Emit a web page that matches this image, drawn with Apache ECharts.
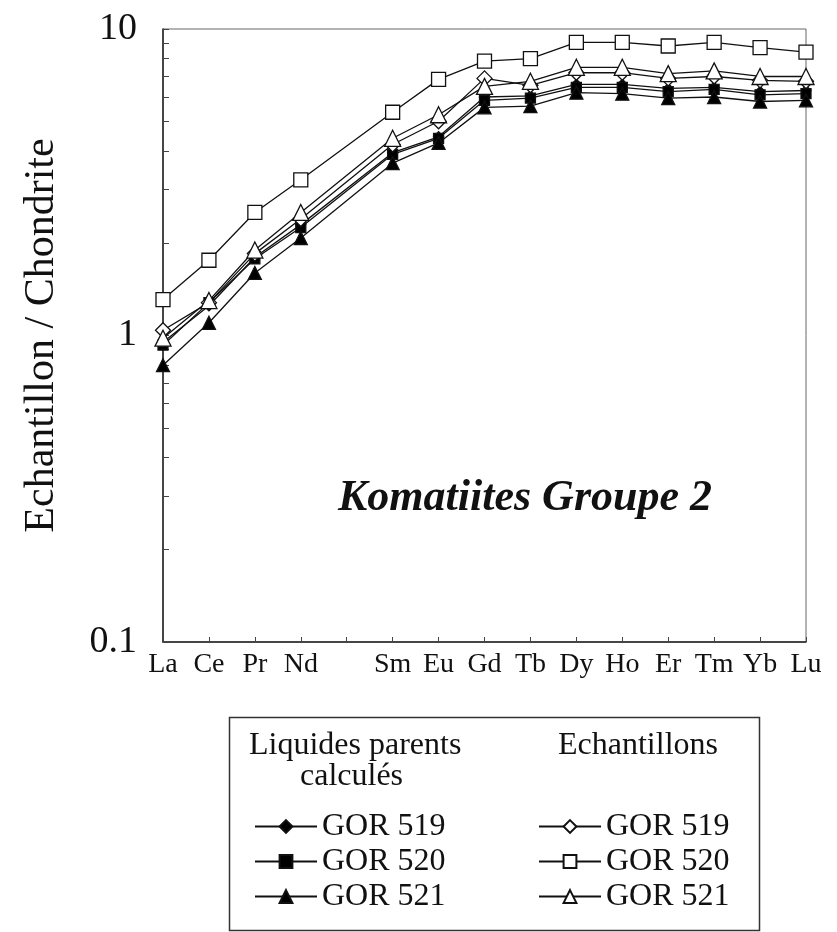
<!DOCTYPE html>
<html>
<head>
<meta charset="utf-8">
<style>
  html, body { margin: 0; padding: 0; background: #fff; }
  #chart { width: 837px; height: 932px; }
</style>
<script src="https://cdn.jsdelivr.net/npm/echarts@6/dist/echarts.min.js"></script>
</head>
<body>
<div id="chart"></div>
<script>
// Rare earth elements, chondrite-normalised (Pm left empty)
const elements = ['La', 'Ce', 'Pr', 'Nd', '', 'Sm', 'Eu', 'Gd', 'Tb', 'Dy', 'Ho', 'Er', 'Tm', 'Yb', 'Lu'];

// Calculated parent liquids
const liquid519 = [0.95, 1.25, 1.80, 2.30, null, 3.95, 4.45, 6.00, 6.05, 6.60, 6.60, 6.40, 6.45, 6.25, 6.30];
const liquid520 = [0.93, 1.28, 1.78, 2.25, null, 3.90, 4.40, 5.85, 5.95, 6.45, 6.45, 6.25, 6.35, 6.10, 6.15];
const liquid521 = [0.80, 1.10, 1.60, 2.08, null, 3.65, 4.25, 5.55, 5.60, 6.20, 6.15, 5.95, 6.00, 5.80, 5.85];

// Samples
const sample519 = [1.04, 1.28, 1.85, 2.40, null, 4.20, 5.00, 6.90, 6.55, 7.20, 7.20, 6.90, 7.00, 6.80, 6.75];
const sample520 = [1.31, 1.76, 2.52, 3.22, null, 5.35, 6.85, 7.85, 8.00, 9.05, 9.05, 8.80, 9.05, 8.70, 8.40];
const sample521 = [0.98, 1.30, 1.90, 2.52, null, 4.40, 5.25, 6.50, 6.75, 7.50, 7.50, 7.15, 7.30, 7.00, 7.00];

const yMajorLabels = [0.1, 1, 10];
const yTickValues = [0.1, 0.2, 0.3, 0.4, 0.5, 0.6, 0.7, 0.8, 0.9, 1, 2, 3, 4, 5, 6, 7, 8, 9, 10];

const seriesDefs = [
  { name: 'Liquides GOR 519', data: liquid519, symbol: 'diamond', size: 10, fill: '#000' },
  { name: 'Liquides GOR 520', data: liquid520, symbol: 'rect', size: 10, fill: '#000' },
  { name: 'Liquides GOR 521', data: liquid521, symbol: 'triangle', size: 13, fill: '#000' },
  { name: 'Echantillons GOR 519', data: sample519, symbol: 'diamond', size: 15, fill: '#fff' },
  { name: 'Echantillons GOR 520', data: sample520, symbol: 'rect', size: 14, fill: '#fff' },
  { name: 'Echantillons GOR 521', data: sample521, symbol: 'triangle', size: 16, fill: '#fff' }
];

const serif = '"Liberation Serif", "DejaVu Serif", serif';

const chart = echarts.init(document.getElementById('chart'), null, { renderer: 'canvas' });

const legendText = { fontFamily: serif, fontSize: 32, color: '#111', lineHeight: 35 };
const legendLabel = function (name) { return name.replace(/^(Liquides|Echantillons) /, ''); };
const legendCommon = {
  orient: 'vertical', top: 809, padding: 0,
  itemWidth: 62, itemHeight: 16, itemGap: 0,
  formatter: legendLabel, textStyle: legendText,
  selectedMode: false
};

chart.setOption({
  animation: false,
  backgroundColor: '#fff',
  grid: {
    left: 163, right: 31, top: 29, bottom: 290,
    show: true, borderColor: '#666', borderWidth: 1
  },
  title: {
    text: 'Komatiites Groupe 2',
    left: 333, top: 472,
    textStyle: { fontFamily: serif, fontSize: 44, fontWeight: 'bold', fontStyle: 'italic', color: '#111' }
  },
  xAxis: {
    type: 'category',
    data: elements,
    boundaryGap: false,
    axisLine: { lineStyle: { color: '#222', width: 1.5 } },
    axisTick: { inside: true, length: 5, alignWithLabel: true, interval: 0, lineStyle: { color: '#444' } },
    axisLabel: { interval: 0, margin: 9, fontFamily: serif, fontSize: 28, color: '#111' },
    splitLine: { show: false }
  },
  yAxis: {
    type: 'log',
    logBase: 10,
    min: 0.1,
    max: 10,
    name: 'Echantillon / Chondrite',
    nameLocation: 'middle',
    nameGap: 100,
    nameRotate: 90,
    nameTextStyle: { fontFamily: serif, fontSize: 42, color: '#111' },
    axisLine: { show: true, lineStyle: { color: '#222', width: 1.5 } },
    axisTick: { show: true, inside: true, length: 6, customValues: yTickValues, lineStyle: { color: '#444' } },
    axisLabel: { customValues: yMajorLabels, margin: 26, fontFamily: serif, fontSize: 38, color: '#111',
      formatter: function (v) { return String(v); } },
    splitLine: { show: false }
  },
  legend: [
    Object.assign({ data: seriesDefs.slice(0, 3).map(s => s.name), left: 254 }, legendCommon),
    Object.assign({ data: seriesDefs.slice(3).map(s => s.name), left: 538 }, legendCommon)
  ],
  graphic: [
    { type: 'rect', left: 227, top: 715, shape: { width: 530, height: 213 },
      style: { fill: 'none', stroke: '#333', lineWidth: 1.5 }, z: 0 },
    { type: 'text', left: 249, top: 730,
      style: { text: 'Liquides parents', font: '32px ' + serif, fill: '#111' } },
    { type: 'text', left: 300, top: 761,
      style: { text: 'calculés', font: '32px ' + serif, fill: '#111' } },
    { type: 'text', left: 558, top: 730,
      style: { text: 'Echantillons', font: '32px ' + serif, fill: '#111' } }
  ],
  series: seriesDefs.map(s => ({
    name: s.name,
    type: 'line',
    data: s.data,
    connectNulls: true,
    symbol: s.symbol,
    symbolSize: s.size,
    showAllSymbol: true,
    lineStyle: { color: '#111', width: 1.3 },
    itemStyle: { color: s.fill, borderColor: '#111', borderWidth: 1.3 },
    emphasis: { disabled: true }
  }))
});
</script>
</body>
</html>
